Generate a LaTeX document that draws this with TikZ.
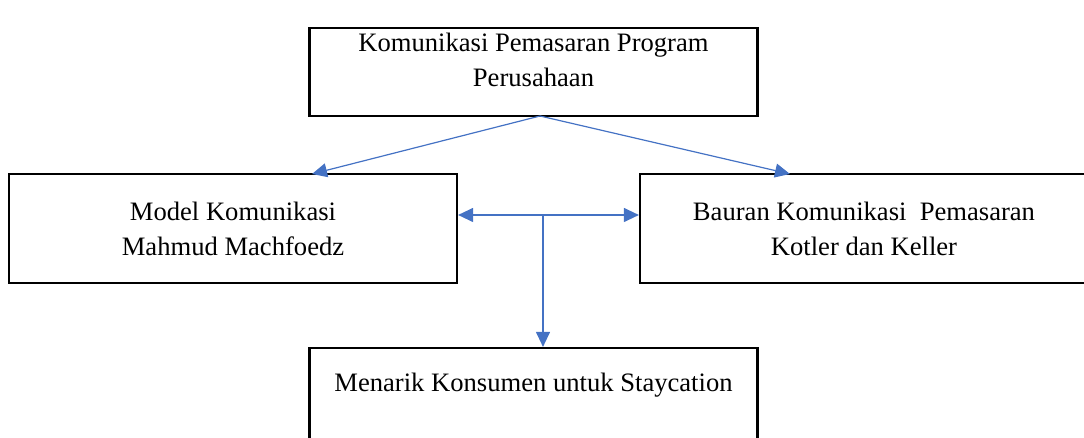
\documentclass[tikz,border=0pt]{standalone}
\usepackage{fontspec}
\setmainfont{Liberation Serif}
\usetikzlibrary{arrows.meta}
\definecolor{linkblue}{RGB}{68,114,196}

\begin{document}
\begin{tikzpicture}[x=0.5pt, y=-0.5pt,
box/.style={draw, line width=1.1pt, minimum width=224pt, minimum height=54.5pt, inner sep=0pt},
txt/.style={align=center, font=\fontsize{13.3}{17.5}\selectfont, inner sep=0pt},
link/.style={draw=linkblue, line width=0.6pt, -{Triangle[length=7.5pt, width=7pt]}}]

\clip (0,0) rectangle (1084,438);

\node[box, minimum height=44pt] (top) at (533.5,72) {};
\node[txt] (toptext) at (533.5,60) {Komunikasi Pemasaran Program\\Perusahaan};
\node[box] (left) at (233,228.5) {};
\node[txt] (lefttext) at (233,228.5) {Model Komunikasi\\Mahmud Machfoedz};
\node[box] (right) at (864,228.5) {};
\node[txt] (righttext) at (864,228.5) {Bauran Komunikasi~ Pemasaran\\Kotler dan Keller};
\node[box] (bottom) at (533.5,402.5) {};
\node[txt] (bottomtext) at (533.5,385) {Menarik Konsumen untuk Staycation};

\coordinate (start) at (540,116);
\coordinate (lt) at (312,174);
\coordinate (rt) at (790,174);
\coordinate (mid) at (543,215);

\draw[link] (start) -- (lt);
\draw[link] (start) -- (rt);
\draw[link, {Triangle[length=7.5pt, width=7pt]}-{Triangle[length=7.5pt, width=7pt]}] (left.east |- mid) -- (right.west |- mid);
\draw[link] (mid) -- (mid |- bottom.north);

\end{tikzpicture}
\end{document}
